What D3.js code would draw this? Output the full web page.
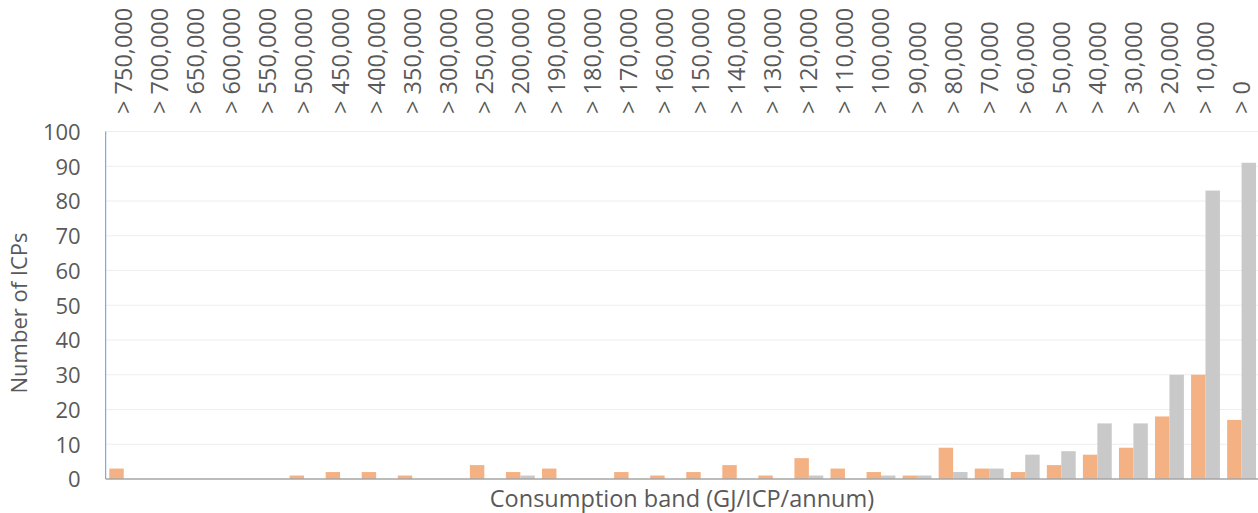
<!DOCTYPE html>
<html><head><meta charset="utf-8">
<script src="https://cdn.jsdelivr.net/npm/d3@7"></script>
<style>body{margin:0;background:#fff}svg{display:block}</style>
</head><body>
<svg id="c" width="1258" height="513"></svg>
<script>
const categories = ["> 750,000","> 700,000","> 650,000","> 600,000","> 550,000","> 500,000","> 450,000","> 400,000","> 350,000","> 300,000","> 250,000","> 200,000","> 190,000","> 180,000","> 170,000","> 160,000","> 150,000","> 140,000","> 130,000","> 120,000","> 110,000","> 100,000","> 90,000","> 80,000","> 70,000","> 60,000","> 50,000","> 40,000","> 30,000","> 20,000","> 10,000","> 0"];
const seriesA = [3,0,0,0,0,1,2,2,1,0,4,2,3,0,2,1,2,4,1,6,3,2,1,9,3,2,4,7,9,18,30,17];
const seriesB = [0,0,0,0,0,0,0,0,0,0,0,1,0,0,0,0,0,0,0,1,0,1,1,2,3,7,8,16,16,30,83,91];
const yTicks = [0,10,20,30,40,50,60,70,80,90,100];

(function(){
const svg = d3.select("#c");
const pLeft = 105.7, pRight = 1259.6, pTop = 131.5, pBottom = 479;
const font = "'Open Sans', 'Liberation Sans', sans-serif";
const textColor = "#595959";

const x = d3.scaleBand().domain(categories).range([pLeft, pRight]).paddingInner(0.2).paddingOuter(0.1);
const inner = d3.scaleBand().domain([0,1]).range([0, x.bandwidth()]);
const y = d3.scaleLinear().domain([0,100]).range([pBottom, pTop]);

svg.append("g").selectAll("line").data(yTicks.filter(d=>d>0)).join("line")
  .attr("x1", pLeft).attr("x2", 1258).attr("y1", d=>y(d)).attr("y2", d=>y(d))
  .attr("stroke", "#EEEEEE").attr("stroke-width", 1.2);

const colors = ["#F4B183", "#C9C9C9"];
[seriesA, seriesB].forEach((s, i) => {
  svg.append("g").selectAll("rect").data(s.map((v,k)=>({v, c: categories[k]}))).join("rect")
    .attr("x", d => x(d.c) + inner(i))
    .attr("width", inner.bandwidth())
    .attr("y", d => y(d.v))
    .attr("height", d => y(0) - y(d.v))
    .attr("fill", colors[i]);
});

svg.append("line").attr("x1", pLeft).attr("x2", pLeft).attr("y1", pTop).attr("y2", pBottom)
  .attr("stroke", "#5B9BD5").attr("stroke-width", 1);
svg.append("line").attr("x1", pLeft).attr("x2", 1258).attr("y1", pBottom).attr("y2", pBottom)
  .attr("stroke", "#A6A6A6").attr("stroke-width", 1.5);

const yAxis = d3.axisLeft(y).tickValues(yTicks).tickSize(0).tickPadding(0);
const ya = svg.append("g").attr("transform", `translate(${pLeft-25},0)`).call(yAxis);
ya.select(".domain").remove();
ya.selectAll("text").attr("font-family", font).attr("font-size", 22).attr("fill", textColor).attr("dy", "0.36em");

const xAxis = d3.axisTop(x).tickSize(0).tickPadding(0);
const xa = svg.append("g").call(xAxis);
xa.select(".domain").remove();
xa.selectAll(".tick text")
  .attr("transform", "rotate(-90)")
  .attr("text-anchor", "start")
  .attr("x", -114).attr("y", 0).attr("dy", "0.36em")
  .attr("font-family", font).attr("font-size", 23.5).attr("fill", textColor);

svg.append("text").attr("x", 682).attr("y", 507).attr("text-anchor", "middle")
  .attr("font-family", font).attr("font-size", 23.5).attr("fill", textColor)
  .text("Consumption band (GJ/ICP/annum)");
svg.append("text").attr("transform", "translate(27,313) rotate(-90)").attr("text-anchor", "middle")
  .attr("font-family", font).attr("font-size", 22).attr("fill", textColor)
  .text("Number of ICPs");
})();
</script>
</body></html>
